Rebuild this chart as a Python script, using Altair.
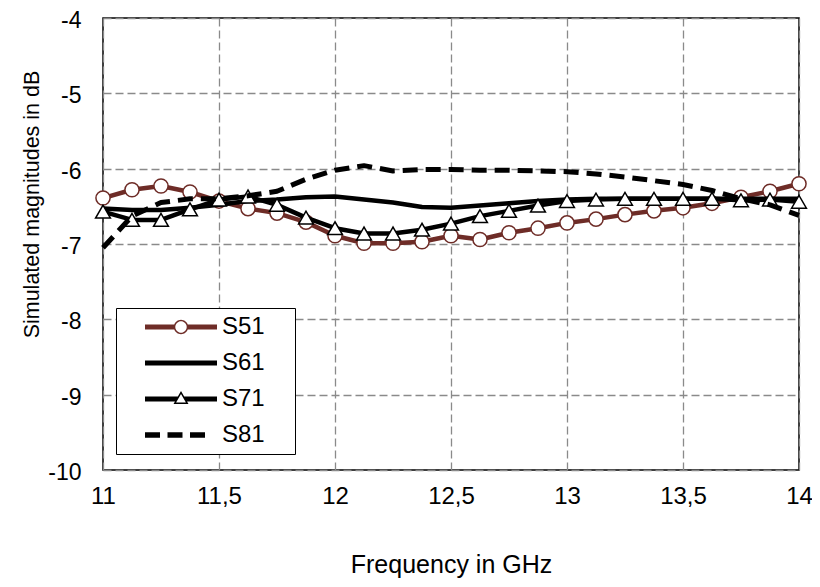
import altair as alt
import pandas as pd
import math

# ---------------- data ----------------
freq = [11.0, 11.125, 11.25, 11.375, 11.5, 11.625, 11.75, 11.875, 12.0,
        12.125, 12.25, 12.375, 12.5, 12.625, 12.75, 12.875, 13.0, 13.125,
        13.25, 13.375, 13.5, 13.625, 13.75, 13.875, 14.0]

s51 = [-6.39, -6.28, -6.23, -6.31, -6.43, -6.53, -6.59, -6.71, -6.89,
       -6.99, -6.99, -6.97, -6.89, -6.94, -6.85, -6.79, -6.72, -6.67,
       -6.61, -6.56, -6.52, -6.46, -6.38, -6.30, -6.20]

s61 = [-6.53, -6.55, -6.55, -6.52, -6.48, -6.43, -6.41, -6.38, -6.37,
       -6.41, -6.45, -6.51, -6.52, -6.49, -6.46, -6.43, -6.41, -6.40,
       -6.40, -6.40, -6.40, -6.40, -6.40, -6.40, -6.40]

s71 = [-6.57, -6.68, -6.68, -6.54, -6.41, -6.37, -6.48, -6.65, -6.79,
       -6.86, -6.86, -6.81, -6.73, -6.63, -6.56, -6.49, -6.43, -6.41,
       -6.40, -6.40, -6.40, -6.40, -6.42, -6.41, -6.44]

s81 = [-7.05, -6.63, -6.45, -6.40, -6.40, -6.36, -6.30, -6.14, -6.02,
       -5.96, -6.03, -6.01, -6.01, -6.02, -6.02, -6.03, -6.04, -6.07,
       -6.11, -6.16, -6.21, -6.29, -6.40, -6.48, -6.62]

names = ["S51", "S61", "S71", "S81"]
x_ticks = [11, 11.5, 12, 12.5, 13, 13.5, 14]
y_ticks = [-10, -9, -8, -7, -6, -5, -4]

BROWN = "#6E2C27"
BLACK = "#000000"
colors = [BROWN, BLACK, BLACK, BLACK]
FONT = "Liberation Sans"

rows = []
for name, vals in zip(names, [s51, s61, s71, s81]):
    for f, v in zip(freq, vals):
        rows.append({"freq": f, "val": v, "series": name})
df = pd.DataFrame(rows)

# ---------------- legend symbol paths (unit = 36 px) ----------------
U = 36.0
HW = 2.4  # half line thickness in px


def orient(pts, ccw=True):
    a = 0.0
    for i in range(len(pts)):
        x1, y1 = pts[i]
        x2, y2 = pts[(i + 1) % len(pts)]
        a += x1 * y2 - x2 * y1
    if (a > 0) != ccw:
        pts = pts[::-1]
    return pts


def poly(pts, ccw=True):
    pts = orient(pts, ccw)
    return "M" + " L".join(f"{x / U:.4f},{y / U:.4f}" for x, y in pts) + " Z"


def rect(x0, x1, h=HW):
    return poly([(x0, -h), (x1, -h), (x1, h), (x0, h)])


def circ(r, ccw=True, n=40):
    return poly([(r * math.cos(2 * math.pi * k / n), r * math.sin(2 * math.pi * k / n))
                 for k in range(n)], ccw)


path51 = " ".join([rect(-36, -6.5), rect(6.5, 36), circ(7.2, True), circ(5.7, False)])
path61 = rect(-36, 36)
tri_out = [(0, -8), (7.5, 5), (-7.5, 5)]
tri_in = [(0, -5), (4.9, 3.5), (-4.9, 3.5)]
path71 = " ".join([
    poly([(-36, -HW), (-2.4, -HW), (-5.1, HW), (-36, HW)]),
    poly([(36, -HW), (2.4, -HW), (5.1, HW), (36, HW)]),
    poly(tri_out, True), poly(tri_in, False)])
path81 = " ".join([rect(-36, -21, 2.7), rect(-13.5, 1.5, 2.7), rect(9, 24, 2.7)])
paths = [path51, path61, path71, path81]

# ---------------- encodings ----------------
X = alt.X("freq:Q",
          scale=alt.Scale(domain=[11, 14], nice=False, zero=False),
          axis=alt.Axis(values=x_ticks, title="Frequency in GHz",
                        labelExpr="replace('' + datum.value, '.', ',')",
                        labelFlush=False, labelPadding=14, titlePadding=44,
                        titleFontSize=25))
Y = alt.Y("val:Q",
          scale=alt.Scale(domain=[-10, -4], nice=False, zero=False),
          axis=alt.Axis(values=y_ticks, title="Simulated magnitudes in dB",
                        labelExpr="'' + datum.value", labelFontSize=23,
                        labelOffset=2.5, labelPadding=22, titlePadding=4,
                        titleFontSize=21.5, titleY=186))

base = alt.Chart(df)


def series_line(name, color, width=4.5, dash=None):
    kw = dict(color=color, strokeWidth=width, strokeJoin="round")
    if dash:
        kw["strokeDash"] = dash
    return base.transform_filter(alt.datum.series == name).mark_line(**kw).encode(x=X, y=Y)


def series_points(name, color, shape, size):
    return base.transform_filter(alt.datum.series == name).mark_point(
        shape=shape, size=size, filled=True, fill="white", stroke=color,
        strokeWidth=1.5, opacity=1).encode(x=X, y=Y)


leg = alt.Legend(title=".", titleOrient="right", titleOpacity=0,
                 titleFontSize=24, titlePadding=16,
                 orient="none", legendX=13, legendY=290,
                 direction="vertical", symbolSize=5184, symbolStrokeWidth=0,
                 symbolOpacity=1, symbolOffset=22, labelOffset=5,
                 clipHeight=24, rowPadding=12, padding=7,
                 strokeColor="black", fillColor="white",
                 labelFont=FONT, labelFontSize=24, labelColor="black")

legend_layer = base.transform_filter("false").mark_point(
    filled=True, opacity=1, strokeWidth=0, size=5184).encode(
    x=X, y=Y,
    shape=alt.Shape("series:N", scale=alt.Scale(domain=names, range=paths), legend=leg),
    fill=alt.Fill("series:N", scale=alt.Scale(domain=names, range=colors), legend=leg))

chart = alt.layer(
    series_line("S51", BROWN),
    series_points("S51", BROWN, "circle", 200),
    series_line("S61", BLACK),
    series_line("S71", BLACK),
    series_points("S71", BLACK, "triangle-up", 220),
    series_line("S81", BLACK, 5, [15, 8]),
    legend_layer,
).properties(
    width=696, height=452,
    autosize=alt.AutoSizeParams(type="none"),
    padding={"left": 95, "top": 10, "right": 13, "bottom": 117},
).configure(
    font=FONT,
).configure_view(
    stroke="black", strokeWidth=1.5,
).configure_axis(
    labelFont=FONT, titleFont=FONT, labelFontSize=24, titleFontSize=24,
    labelColor="black", titleColor="black", titleFontWeight="normal",
    domain=False, ticks=False, grid=True, gridColor="#8a8a8a",
    gridDash=[8, 4], gridWidth=1.3,
)

chart.save("out.html", embed_options={"renderer": "svg", "actions": False})
